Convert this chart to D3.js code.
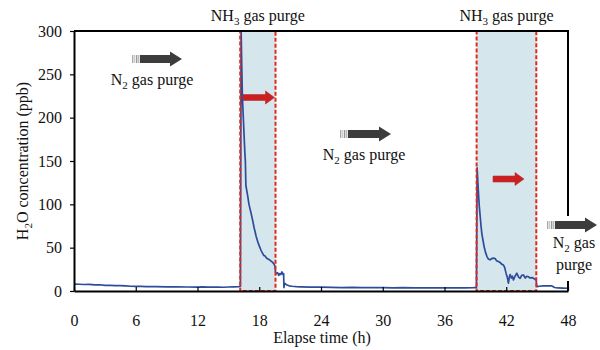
<!DOCTYPE html>
<html>
<head>
<meta charset="utf-8">
<script src="https://cdn.jsdelivr.net/npm/d3@7"></script>
<style>
  body { margin: 0; background: #fff; }
  svg { display: block; }
  text { font-family: "Liberation Serif", "Times New Roman", Times, serif; fill: #111; }
</style>
</head>
<body>
<svg id="chart" width="600" height="350" font-family="Liberation Serif, serif"></svg>
<script>
// ---- data ----
const timeH = [
  0, 0.5, 1, 1.5, 2, 2.5, 3, 3.5, 4, 4.5, 5, 5.5, 6, 6.5, 7, 8, 9, 10, 11, 12, 12.5, 13, 14, 14.5, 15, 15.5, 16, 16.17,
  16.24, 16.3, 16.36, 16.48, 16.6, 16.65, 16.7, 16.8, 16.9, 17.0, 17.1, 17.2, 17.35, 17.5, 17.6, 17.7, 17.85, 18.0,
  18.17, 18.3, 18.45, 18.6, 18.7, 18.85, 19.0, 19.15, 19.3, 19.45, 19.53, 19.58, 19.65, 19.8, 19.9, 20.0, 20.1, 20.2,
  20.3, 20.37, 20.4, 20.45, 20.55, 20.7, 20.9, 21.2, 21.6, 22, 23, 24, 25, 26, 27, 28, 29, 30, 31, 32, 33, 34, 35, 36,
  37, 38, 38.8, 39.1,
  39.17, 39.24, 39.3, 39.38, 39.47, 39.55, 39.63, 39.75, 39.85, 40.0, 40.12, 40.25, 40.44, 40.6, 40.75, 40.92, 41.05,
  41.24, 41.4, 41.55, 41.73, 41.85, 41.99, 42.1, 42.21, 42.3, 42.38, 42.5, 42.6, 42.7, 42.85, 43.03, 43.2, 43.35, 43.5,
  43.67, 43.85, 44.0, 44.15, 44.3, 44.5, 44.64, 44.8, 44.9, 44.97, 45.2, 45.6, 46.0, 46.4, 46.7, 47, 47.5, 48
];
const h2oPpb = [
  8, 7.8, 7.5, 7.6, 7, 7.2, 6.6, 6.5, 6.1, 6.2, 5.8, 5.5, 5.3, 5.4, 5.1, 5, 4.8, 4.9, 4.6, 4.5, 4.7, 4.4, 4.5, 4.3, 4.6, 4.8, 5, 5.5,
  300, 260, 225, 192, 160, 150, 122, 115, 108, 100, 95, 90, 82, 73, 68, 63, 57, 52,
  47, 44, 41, 40, 38, 37, 36, 34.5, 33, 31, 28, 22, 20, 21, 18, 20, 19, 22,
  19, 20, 4, 9, 8, 7, 6, 5.5, 5, 4.8, 4.5, 4.4, 4.2, 4, 4.1, 3.9, 3.8, 3.9, 3.7, 3.8, 3.6, 3.7, 3.6, 3.7,
  3.5, 3.6, 3.8, 4,
  142, 126, 113, 98, 86, 75, 66, 58, 51, 44, 40, 37, 36, 37.5, 38, 37.5, 35,
  34, 33, 31, 30, 27, 20, 16, 9, 16, 19, 15, 17, 12.7, 17, 20.5, 16, 14.6, 18,
  18.5, 15, 17, 16.5, 15, 15.5, 14.6, 13.5, 12.7, 5, 5.5, 5.8, 6, 6, 4, 3.5, 3.3, 3.2
];
const purgeStart = [16.15, 39.12];
const purgeEnd = [19.58, 44.92];
const purgeLabels = ["NH3 gas purge", "NH3 gas purge"];
const xTicks = [0, 6, 12, 18, 24, 30, 36, 42, 48];
const yTicks = [0, 50, 100, 150, 200, 250, 300];
const xTitle = "Elapse time (h)";
const yTitle = "H2O concentration (ppb)";
const n2Label = "N2 gas purge";

// ---- layout ----
const FS = 16;
const svg = d3.select("#chart");
const x = d3.scaleLinear().domain([0, 48]).range([74, 568]);
const y = d3.scaleLinear().domain([0, 300]).range([291, 31]);

// purge rectangles
const purges = purgeStart.map((s, i) => ({ s, e: purgeEnd[i], label: purgeLabels[i] }));
svg.selectAll("rect.purge").data(purges).join("rect")
  .attr("class", "purge")
  .attr("x", d => x(d.s)).attr("y", y(300))
  .attr("width", d => x(d.e) - x(d.s)).attr("height", y(0) - y(300))
  .attr("fill", "#d5e7ec");

// data line
const pts = timeH.map((t, i) => [t, h2oPpb[i]]);
svg.append("path")
  .attr("d", d3.line().x(d => x(d[0])).y(d => y(d[1]))(pts))
  .attr("fill", "none").attr("stroke", "#2d4c9c").attr("stroke-width", 1.7)
  .attr("stroke-linejoin", "round");

// dashed red borders
svg.selectAll("rect.purgeb").data(purges).join("rect")
  .attr("class", "purgeb")
  .attr("x", d => x(d.s)).attr("y", y(300))
  .attr("width", d => x(d.e) - x(d.s)).attr("height", y(0) - y(300))
  .attr("fill", "none").attr("stroke", "#e02a1c").attr("stroke-width", 2)
  .attr("stroke-dasharray", "4,2");

// axes
const gx = svg.append("g").attr("transform", `translate(0,${y(0)})`)
  .call(d3.axisBottom(x).tickValues(xTicks).tickSize(-4).tickSizeOuter(0).tickPadding(24));
const gy = svg.append("g").attr("transform", `translate(${x(0)},0)`)
  .call(d3.axisLeft(y).tickValues(yTicks).tickSize(4).tickSizeOuter(0).tickPadding(8));
[gx, gy].forEach(g => {
  g.attr("font-family", "Liberation Serif, serif").attr("font-size", FS);
  g.select(".domain").attr("stroke", "#000").attr("stroke-width", 2);
  g.selectAll(".tick line").attr("stroke", "#000").attr("stroke-width", 1.2);
  g.selectAll(".tick text").attr("font-size", FS).attr("fill", "#111");
});
// top and right frame
svg.append("path")
  .attr("d", `M${x(0)},${y(300)}H${x(48)}V${y(0)}`)
  .attr("fill", "none").attr("stroke", "#000").attr("stroke-width", 2);

// helper for subscript text
function subText(g, str, sub, attrs) {
  const t = g.append("text").attr("font-size", FS);
  Object.entries(attrs).forEach(([k, v]) => t.attr(k, v));
  const idx = str.indexOf(sub);
  t.append("tspan").text(str.slice(0, idx + sub.length - 1));
  t.append("tspan").text(sub.slice(-1)).attr("font-size", 11).attr("dy", 3.5);
  t.append("tspan").text(str.slice(idx + sub.length)).attr("dy", -3.5);
  return t;
}

// axis titles
svg.append("text").attr("x", 322).attr("y", 343).attr("text-anchor", "middle")
  .attr("font-size", FS).text(xTitle);
subText(svg, yTitle, "H2", { transform: "translate(28,161) rotate(-90)", "text-anchor": "middle" });

// NH3 labels
purges.forEach(d => {
  subText(svg, d.label, "H3", { x: (x(d.s) + x(d.e)) / 2, y: 21, "text-anchor": "middle" });
});

// arrows
function grayArrow(x0, x1, yc) {
  const g = svg.append("g");
  const stripes = [["#aaa", 0], ["#ccc", 2], ["#999", 4], ["#bbb", 6]];
  stripes.forEach(([c, dx]) => g.append("rect").attr("x", x0 + dx).attr("y", yc - 4).attr("width", 1.4).attr("height", 8).attr("fill", c));
  g.append("path")
    .attr("d", `M${x0 + 8},${yc - 4}H${x1 - 12}V${yc - 7.5}L${x1},${yc}L${x1 - 12},${yc + 7.5}V${yc + 4}H${x0 + 8}Z`)
    .attr("fill", "#3c3c3c");
}
function redArrow(x0, x1, yc) {
  svg.append("path")
    .attr("d", `M${x0},${yc - 3}H${x1 - 9}V${yc - 6.5}L${x1},${yc}L${x1 - 9},${yc + 6.5}V${yc + 3}H${x0}Z`)
    .attr("fill", "#cc1f1f").attr("stroke", "#b0343c").attr("stroke-width", 0.6);
}

grayArrow(132, 182, 59);
subText(svg, n2Label, "N2", { x: 152, y: 85, "text-anchor": "middle" });
grayArrow(340, 391, 134);
subText(svg, n2Label, "N2", { x: 364, y: 160, "text-anchor": "middle" });

// right-side label box (covers frame)
svg.append("rect").attr("x", 544).attr("y", 216).attr("width", 56).attr("height", 65).attr("fill", "#fff");
grayArrow(547, 597, 225);
subText(svg, "N2 gas", "N2", { x: 574, y: 248, "text-anchor": "middle" });
svg.append("text").attr("x", 574).attr("y", 270).attr("text-anchor", "middle").attr("font-size", FS).text("purge");

redArrow(243, 274.5, 97.5);
redArrow(493, 524, 179);
</script>
</body>
</html>
